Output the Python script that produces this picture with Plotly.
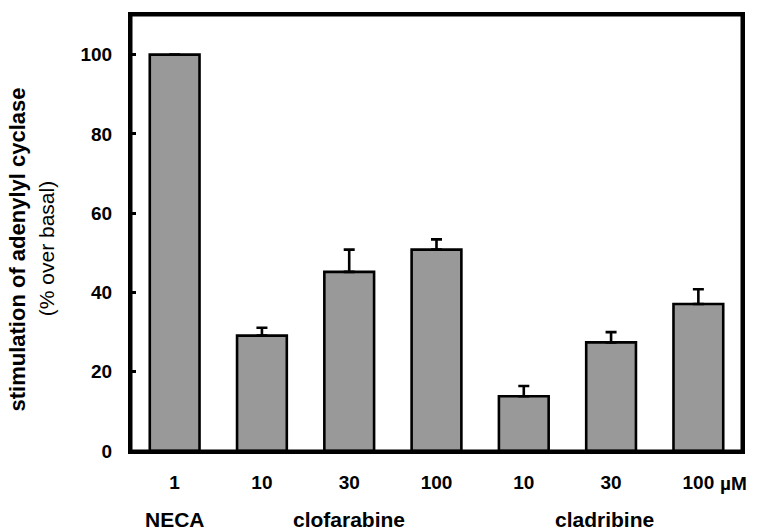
import plotly.graph_objects as go

# Data
x_pos = [0, 1, 2, 3, 4, 5, 6]
tick_labels = ["1", "10", "30", "100", "10", "30", "100"]
values = [100, 29.1, 45.2, 50.8, 13.8, 27.4, 37.1]
errors = [0, 2.0, 5.6, 2.6, 2.6, 2.6, 3.7]
group_labels = ["NECA", "clofarabine", "cladribine"]
unit_label = "µM"
y_title_main = "stimulation of adenylyl cyclase"
y_title_sub = "(% over basal)"

FONT = "Liberation Sans, Arial, sans-serif"

fig = go.Figure()
fig.add_trace(go.Bar(
    x=x_pos,
    y=values,
    width=0.57,
    marker=dict(color="#999999", line=dict(color="black", width=2.6)),
    error_y=dict(type="data", symmetric=False, array=errors,
                 arrayminus=[0] * len(errors), color="black",
                 thickness=2.6, width=5.5, visible=True),
    showlegend=False,
))

fig.update_layout(
    width=757, height=531,
    margin=dict(l=131, r=13, t=12, b=80),
    paper_bgcolor="white", plot_bgcolor="white",
    font=dict(family=FONT, color="black"),
    xaxis=dict(
        range=[-0.5, 6.5], tickvals=x_pos, ticktext=tick_labels,
        showline=True, linecolor="black", linewidth=3, mirror=True,
        showgrid=False, zeroline=False, ticks="",
        tickfont=dict(family=FONT, size=19, color="black", weight="bold"),
        ticklabelstandoff=12,
    ),
    yaxis=dict(
        range=[0, 110], tickvals=[0, 20, 40, 60, 80, 100],
        showline=True, linecolor="black", linewidth=3, mirror=True,
        showgrid=False, zeroline=False, ticks="inside", ticklen=5,
        tickwidth=2.5, tickcolor="black",
        tickfont=dict(family=FONT, size=19, color="black", weight="bold"),
        ticklabelstandoff=12,
    ),
    shapes=[dict(type="rect", xref="paper", yref="paper", x0=0, x1=1, y0=0, y1=1,
                 line=dict(color="black", width=3), fillcolor="rgba(0,0,0,0)",
                 layer="above")],
)

annotations = []
# unit label after last tick label
annotations.append(dict(
    x=x_pos[-1], y=0, xref="x", yref="paper", text=unit_label,
    showarrow=False, xanchor="left", yanchor="top", xshift=20, yshift=-20,
    font=dict(family=FONT, size=19, color="black", weight="bold"),
))
# group labels
group_x = [x_pos[0], x_pos[2], x_pos[5] - 0.07]
for lab, gx in zip(group_labels, group_x):
    annotations.append(dict(
        x=gx, y=-0.156, xref="x", yref="paper", text=lab, showarrow=False,
        xanchor="center", yanchor="middle",
        font=dict(family=FONT, size=21, color="black", weight="bold"),
    ))
# y-axis title (two lines)
annotations.append(dict(
    x=-0.186, y=0.463, xref="paper", yref="paper", text=y_title_main,
    showarrow=False, textangle=-90, xanchor="center", yanchor="middle",
    font=dict(family=FONT, size=22, color="black", weight="bold"),
))
annotations.append(dict(
    x=-0.139, y=0.463, xref="paper", yref="paper", text=y_title_sub,
    showarrow=False, textangle=-90, xanchor="center", yanchor="middle",
    font=dict(family=FONT, size=21, color="black"),
))
fig.update_layout(annotations=annotations)

fig.write_html("out.html", config={"displayModeBar": False})
with open("out.html", "r", encoding="utf-8") as f:
    html = f.read()
html = html.replace("<body>", '<body style="margin:0;padding:0;overflow:hidden">', 1)
with open("out.html", "w", encoding="utf-8") as f:
    f.write(html)
